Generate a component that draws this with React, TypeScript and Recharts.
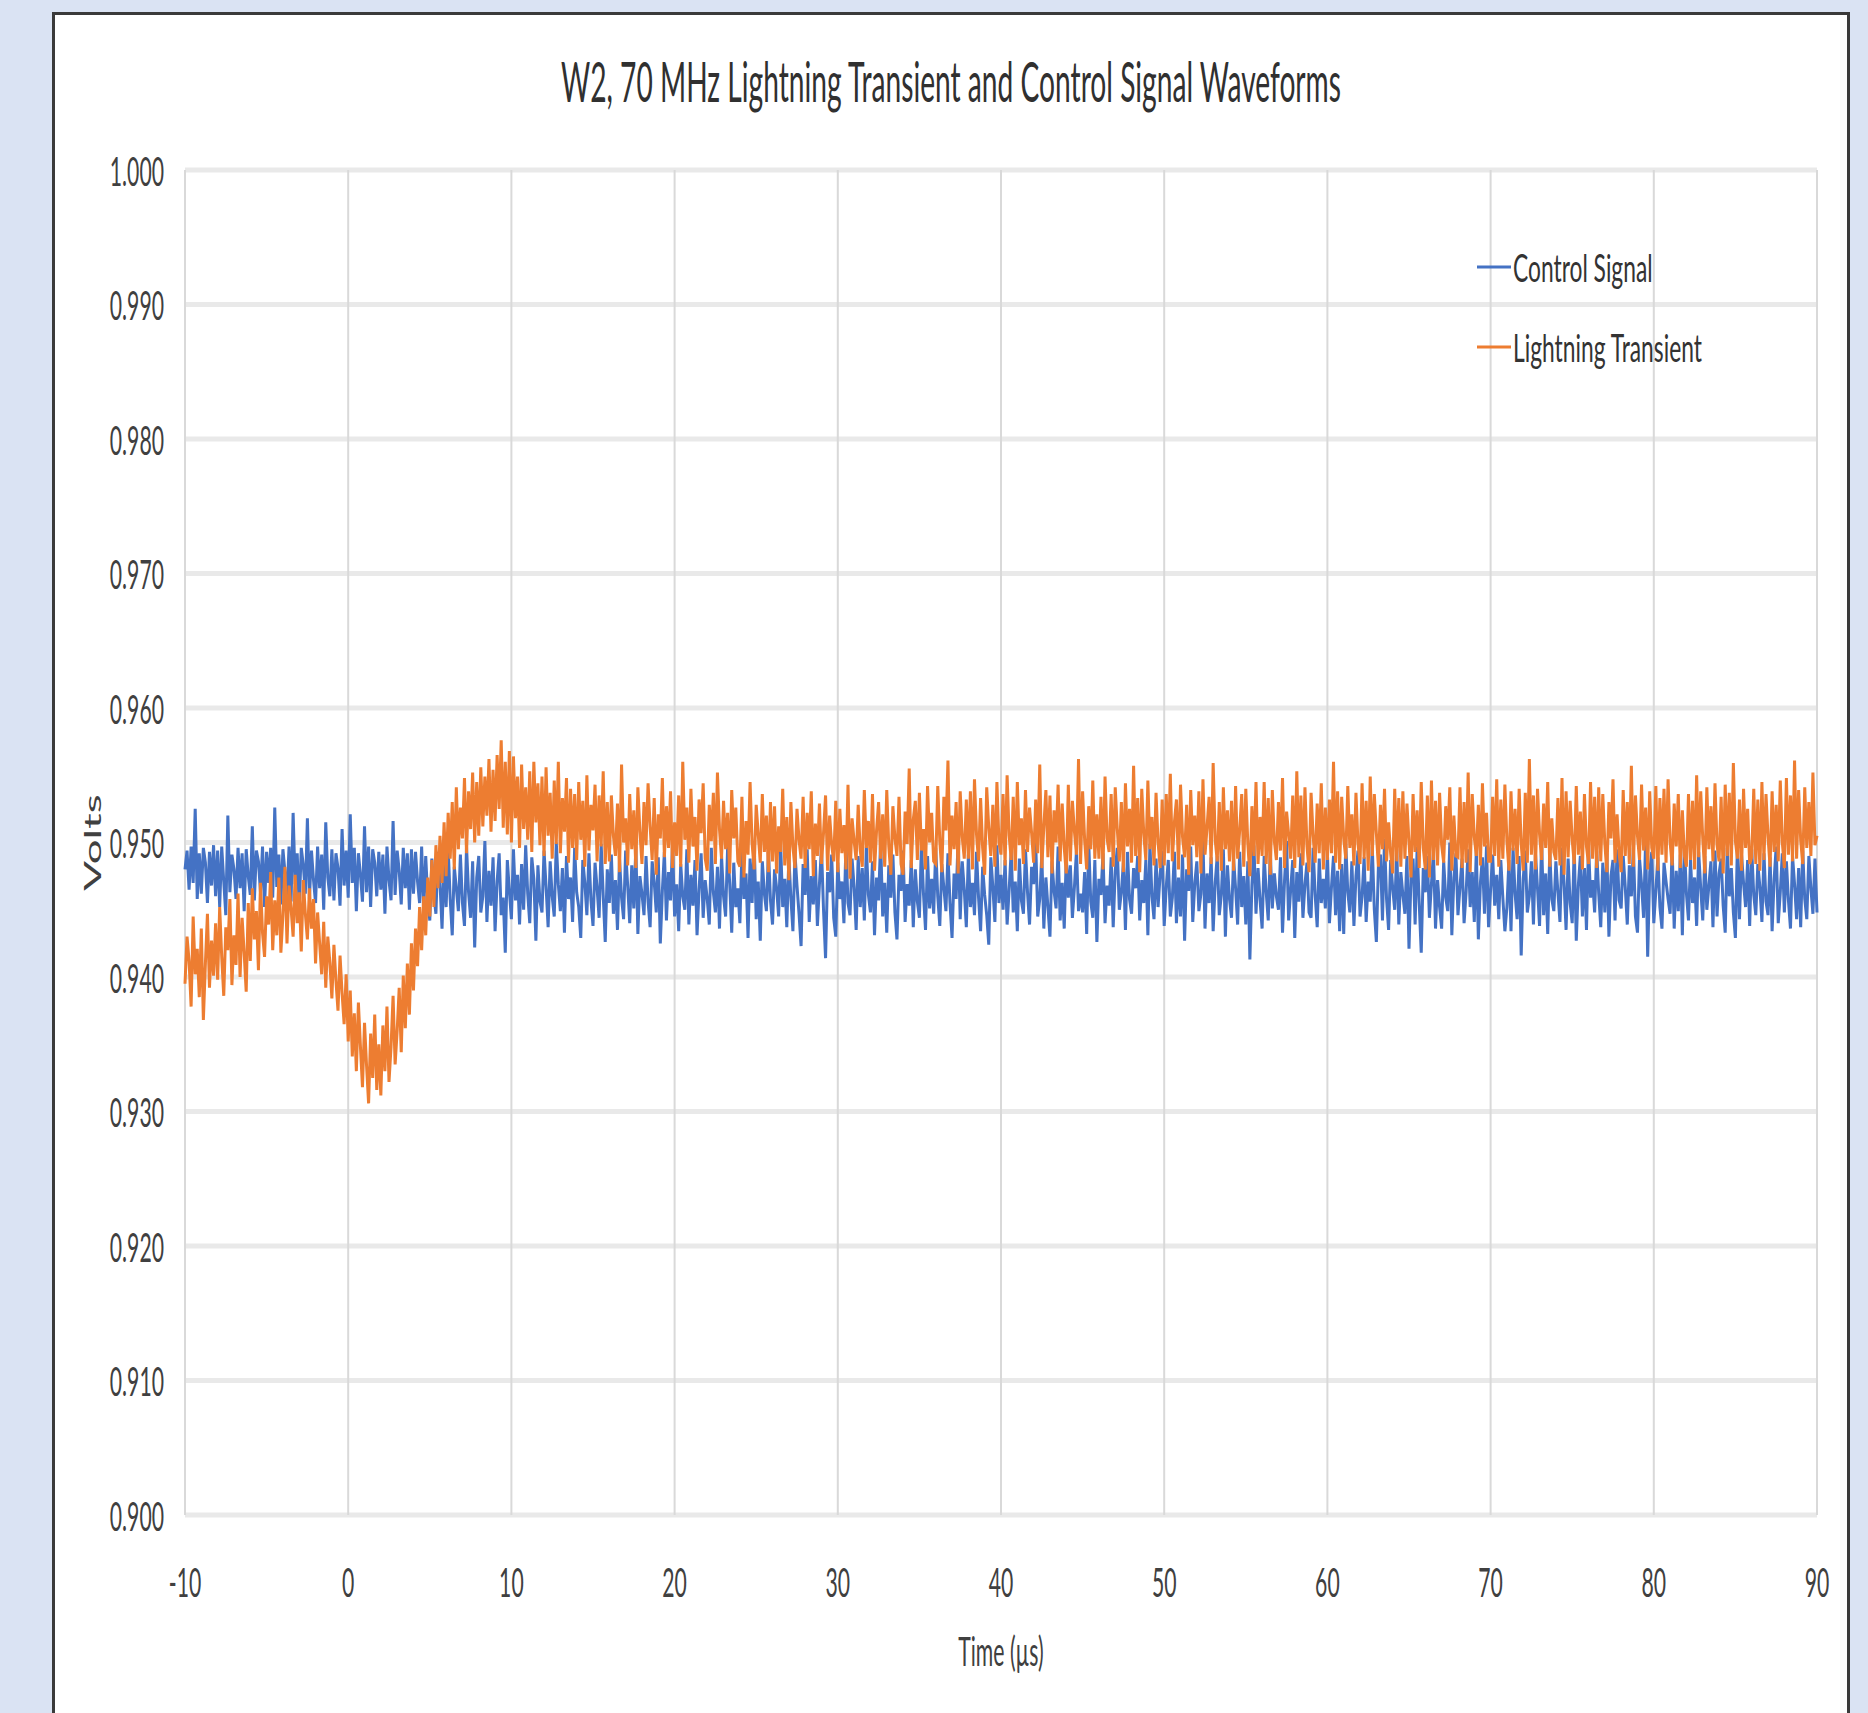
import React from 'react';
import {
  LineChart,
  Line,
  XAxis,
  YAxis,
  CartesianGrid,
  Legend,
  Label
} from 'recharts';

// sampling grid of the scope capture (µs)
const TIME_START = -10;
const TIME_STEP = 0.125;

const xTicks = [-10, 0, 10, 20, 30, 40, 50, 60, 70, 80, 90];
const yTicks = [0.9, 0.91, 0.92, 0.93, 0.94, 0.95, 0.96, 0.97, 0.98, 0.99, 1.0];

// Control Signal (V), one row = 2 µs
const controlSignal = [
  0.9480, 0.9494, 0.9465, 0.9497, 0.9470, 0.9525, 0.9458, 0.9492, 0.9462, 0.9496, 0.9485, 0.9455, 0.9493, 0.9468, 0.9498, 0.9460,
  0.9494, 0.9452, 0.9497, 0.9471, 0.9446, 0.9520, 0.9463, 0.9491, 0.9480, 0.9458, 0.9496, 0.9466, 0.9492, 0.9449, 0.9495, 0.9475,
  0.9461, 0.9512, 0.9457, 0.9494, 0.9486, 0.9463, 0.9497, 0.9452, 0.9493, 0.9470, 0.9496, 0.9459, 0.9526, 0.9467, 0.9491, 0.9454,
  0.9495, 0.9478, 0.9460, 0.9497, 0.9456, 0.9522, 0.9469, 0.9492, 0.9451, 0.9496, 0.9483, 0.9462, 0.9518, 0.9458, 0.9494, 0.9472,
  0.9455, 0.9497, 0.9466, 0.9491, 0.9450, 0.9515, 0.9474, 0.9460, 0.9495, 0.9457, 0.9492, 0.9481, 0.9453, 0.9510, 0.9468, 0.9494,
  0.9459, 0.9521, 0.9470, 0.9496, 0.9449, 0.9492, 0.9476, 0.9456, 0.9512, 0.9463, 0.9497, 0.9452, 0.9495, 0.9485, 0.9460, 0.9493,
  0.9465, 0.9491, 0.9447, 0.9497, 0.9472, 0.9457, 0.9516, 0.9461, 0.9494, 0.9479, 0.9454, 0.9496, 0.9466, 0.9492, 0.9450, 0.9495,
  0.9462, 0.9493, 0.9471, 0.9455, 0.9497, 0.9448, 0.9490, 0.9458,
  0.9442, 0.9488, 0.9461, 0.9447, 0.9493, 0.9470, 0.9436, 0.9485, 0.9452, 0.9496, 0.9458, 0.9431, 0.9482, 0.9466, 0.9449, 0.9491,
  0.9455, 0.9438, 0.9497, 0.9463, 0.9444, 0.9486, 0.9422, 0.9474, 0.9490, 0.9448, 0.9460, 0.9501, 0.9441, 0.9479, 0.9453, 0.9489,
  0.9434, 0.9471, 0.9492, 0.9446, 0.9459, 0.9418, 0.9487, 0.9464, 0.9443, 0.9495, 0.9457, 0.9476, 0.9439, 0.9484, 0.9450, 0.9498,
  0.9462, 0.9440, 0.9489, 0.9473, 0.9427, 0.9483, 0.9456, 0.9448, 0.9494, 0.9467, 0.9437, 0.9486, 0.9460, 0.9445, 0.9500, 0.9469,
  0.9449, 0.9481, 0.9433, 0.9490, 0.9458, 0.9474, 0.9441, 0.9496, 0.9463, 0.9452, 0.9429, 0.9487, 0.9470, 0.9446, 0.9492, 0.9457,
  0.9438, 0.9485, 0.9466, 0.9444, 0.9499, 0.9461, 0.9426, 0.9480, 0.9455, 0.9491, 0.9447, 0.9472, 0.9435, 0.9488, 0.9459, 0.9443,
  0.9494, 0.9468, 0.9440, 0.9483, 0.9451, 0.9497, 0.9432, 0.9475, 0.9462, 0.9446, 0.9490, 0.9456, 0.9437, 0.9486, 0.9471, 0.9448,
  0.9489, 0.9425, 0.9464, 0.9493, 0.9442, 0.9478, 0.9457, 0.9500, 0.9445, 0.9469, 0.9434, 0.9484, 0.9460, 0.9450, 0.9495, 0.9439,
  0.9476, 0.9453, 0.9487, 0.9431, 0.9465, 0.9492, 0.9444, 0.9472, 0.9458, 0.9439, 0.9496, 0.9463, 0.9448, 0.9482, 0.9436, 0.9490,
  0.9460, 0.9445, 0.9497, 0.9470, 0.9433, 0.9485, 0.9452, 0.9466, 0.9440, 0.9493, 0.9458, 0.9477, 0.9429, 0.9488, 0.9455, 0.9501,
  0.9443, 0.9471, 0.9427, 0.9486, 0.9462, 0.9449, 0.9494, 0.9457, 0.9439, 0.9480, 0.9466, 0.9445, 0.9498, 0.9452, 0.9473, 0.9437,
  0.9489, 0.9459, 0.9434, 0.9492, 0.9468, 0.9447, 0.9423, 0.9484, 0.9461, 0.9495, 0.9441, 0.9475, 0.9454, 0.9487, 0.9438, 0.9469,
  0.9496, 0.9450, 0.9414, 0.9478, 0.9463, 0.9491, 0.9444, 0.9430, 0.9485, 0.9458, 0.9471, 0.9440, 0.9499, 0.9455, 0.9446, 0.9488,
  0.9467, 0.9435, 0.9490, 0.9452, 0.9481, 0.9442, 0.9497, 0.9461, 0.9448, 0.9486, 0.9431, 0.9474, 0.9457, 0.9502, 0.9445, 0.9470,
  0.9433, 0.9483, 0.9459, 0.9491, 0.9448, 0.9428, 0.9476, 0.9464, 0.9494, 0.9441, 0.9469, 0.9453, 0.9487, 0.9437, 0.9480, 0.9456,
  0.9444, 0.9499, 0.9462, 0.9435, 0.9490, 0.9451, 0.9473, 0.9447, 0.9496, 0.9460, 0.9438, 0.9484, 0.9466, 0.9449, 0.9492, 0.9455,
  0.9429, 0.9477, 0.9458, 0.9504, 0.9443, 0.9486, 0.9465, 0.9437, 0.9491, 0.9452, 0.9470, 0.9446, 0.9493, 0.9459, 0.9434, 0.9482,
  0.9461, 0.9446, 0.9424, 0.9489, 0.9467, 0.9441, 0.9498, 0.9455, 0.9476, 0.9450, 0.9487, 0.9439, 0.9465, 0.9494, 0.9448, 0.9471,
  0.9434, 0.9488, 0.9457, 0.9447, 0.9495, 0.9463, 0.9439, 0.9482, 0.9469, 0.9501, 0.9445, 0.9458, 0.9491, 0.9436, 0.9474, 0.9452,
  0.9430, 0.9486, 0.9464, 0.9451, 0.9497, 0.9442, 0.9470, 0.9436, 0.9490, 0.9459, 0.9483, 0.9444, 0.9467, 0.9494, 0.9449, 0.9462,
  0.9448, 0.9478, 0.9432, 0.9500, 0.9456, 0.9444, 0.9487, 0.9426, 0.9473, 0.9461, 0.9492, 0.9440, 0.9468, 0.9453, 0.9489, 0.9437,
  0.9479, 0.9496, 0.9450, 0.9463, 0.9485, 0.9435, 0.9493, 0.9458, 0.9447, 0.9481, 0.9466, 0.9490, 0.9442, 0.9472, 0.9455, 0.9487,
  0.9431, 0.9499, 0.9460, 0.9443, 0.9488, 0.9452, 0.9476, 0.9494, 0.9438, 0.9467, 0.9487, 0.9445, 0.9459, 0.9493, 0.9440, 0.9474,
  0.9445, 0.9491, 0.9427, 0.9480, 0.9464, 0.9497, 0.9441, 0.9470, 0.9486, 0.9449, 0.9462, 0.9502, 0.9436, 0.9477, 0.9455, 0.9489,
  0.9434, 0.9470, 0.9490, 0.9446, 0.9461, 0.9495, 0.9430, 0.9483, 0.9458, 0.9444, 0.9488, 0.9466, 0.9439, 0.9493, 0.9452, 0.9475,
  0.9439, 0.9486, 0.9413, 0.9468, 0.9498, 0.9447, 0.9481, 0.9457, 0.9436, 0.9490, 0.9463, 0.9442, 0.9494, 0.9451, 0.9477, 0.9460,
  0.9450, 0.9489, 0.9433, 0.9472, 0.9501, 0.9442, 0.9465, 0.9487, 0.9429, 0.9478, 0.9456, 0.9492, 0.9444, 0.9469, 0.9485, 0.9448,
  0.9444, 0.9496, 0.9461, 0.9437, 0.9488, 0.9455, 0.9473, 0.9451, 0.9493, 0.9440, 0.9467, 0.9490, 0.9446, 0.9479, 0.9434, 0.9484,
  0.9432, 0.9499, 0.9463, 0.9448, 0.9486, 0.9438, 0.9475, 0.9494, 0.9445, 0.9460, 0.9489, 0.9441, 0.9471, 0.9456, 0.9497, 0.9450,
  0.9426, 0.9482, 0.9491, 0.9442, 0.9503, 0.9458, 0.9435, 0.9487, 0.9466, 0.9450, 0.9495, 0.9439, 0.9478, 0.9461, 0.9447, 0.9490,
  0.9421, 0.9476, 0.9488, 0.9439, 0.9497, 0.9455, 0.9418, 0.9481, 0.9463, 0.9490, 0.9444, 0.9469, 0.9493, 0.9436, 0.9472, 0.9452,
  0.9436, 0.9486, 0.9459, 0.9449, 0.9500, 0.9431, 0.9474, 0.9492, 0.9446, 0.9467, 0.9488, 0.9440, 0.9463, 0.9495, 0.9452, 0.9478,
  0.9441, 0.9495, 0.9428, 0.9470, 0.9489, 0.9447, 0.9498, 0.9437, 0.9465, 0.9491, 0.9453, 0.9476, 0.9443, 0.9487, 0.9459, 0.9434,
  0.9452, 0.9487, 0.9434, 0.9496, 0.9462, 0.9443, 0.9490, 0.9416, 0.9473, 0.9494, 0.9448, 0.9460, 0.9486, 0.9439, 0.9492, 0.9466,
  0.9438, 0.9501, 0.9446, 0.9477, 0.9432, 0.9493, 0.9458, 0.9449, 0.9486, 0.9463, 0.9441, 0.9496, 0.9470, 0.9435, 0.9488, 0.9455,
  0.9440, 0.9497, 0.9427, 0.9468, 0.9490, 0.9445, 0.9481, 0.9435, 0.9499, 0.9459, 0.9472, 0.9448, 0.9494, 0.9462, 0.9437, 0.9485,
  0.9448, 0.9492, 0.9430, 0.9475, 0.9487, 0.9442, 0.9495, 0.9457, 0.9451, 0.9490, 0.9467, 0.9439, 0.9483, 0.9460, 0.9496, 0.9445,
  0.9433, 0.9488, 0.9469, 0.9444, 0.9502, 0.9415, 0.9478, 0.9493, 0.9440, 0.9464, 0.9489, 0.9452, 0.9436, 0.9485, 0.9471, 0.9458,
  0.9447, 0.9496, 0.9436, 0.9479, 0.9449, 0.9491, 0.9431, 0.9498, 0.9462, 0.9442, 0.9487, 0.9455, 0.9474, 0.9438, 0.9493, 0.9466,
  0.9442, 0.9490, 0.9450, 0.9468, 0.9486, 0.9437, 0.9494, 0.9445, 0.9477, 0.9488, 0.9453, 0.9433, 0.9496, 0.9460, 0.9481, 0.9448,
  0.9429, 0.9499, 0.9443, 0.9491, 0.9470, 0.9452, 0.9487, 0.9438, 0.9495, 0.9461, 0.9446, 0.9484, 0.9467, 0.9441, 0.9492, 0.9456,
  0.9446, 0.9489, 0.9434, 0.9473, 0.9497, 0.9440, 0.9463, 0.9492, 0.9448, 0.9486, 0.9457, 0.9436, 0.9490, 0.9469, 0.9443, 0.9481,
  0.9437, 0.9494, 0.9458, 0.9443, 0.9490, 0.9466, 0.9447, 0.9488, 0.9448
];

// Lightning Transient (V), one row = 2 µs
const lightningTransient = [
  0.9395, 0.9430, 0.9412, 0.9378, 0.9445, 0.9402, 0.9421, 0.9385, 0.9436, 0.9368, 0.9410, 0.9447, 0.9392, 0.9427, 0.9401, 0.9440,
  0.9398, 0.9452, 0.9415, 0.9386, 0.9437, 0.9420, 0.9458, 0.9394, 0.9431, 0.9409, 0.9462, 0.9400, 0.9444, 0.9418, 0.9389, 0.9455,
  0.9412, 0.9466, 0.9428, 0.9449, 0.9405, 0.9470, 0.9433, 0.9415, 0.9460, 0.9439, 0.9478, 0.9420, 0.9457, 0.9431, 0.9474, 0.9418,
  0.9446, 0.9482, 0.9425, 0.9468, 0.9451, 0.9430, 0.9476, 0.9440, 0.9463, 0.9419, 0.9472, 0.9447, 0.9428, 0.9466, 0.9436, 0.9458,
  0.9410, 0.9448, 0.9425, 0.9402, 0.9441, 0.9392, 0.9430, 0.9411, 0.9384, 0.9424, 0.9397, 0.9375, 0.9416, 0.9388, 0.9365, 0.9402,
  0.9352, 0.9390, 0.9341, 0.9373, 0.9330, 0.9381, 0.9348, 0.9318, 0.9366, 0.9334, 0.9306, 0.9358, 0.9325, 0.9372, 0.9316, 0.9350,
  0.9312, 0.9364, 0.9330, 0.9378, 0.9322, 0.9348, 0.9386, 0.9335, 0.9360, 0.9392, 0.9344, 0.9401, 0.9362, 0.9410, 0.9372, 0.9425,
  0.9390, 0.9436, 0.9408, 0.9452, 0.9420, 0.9460, 0.9431, 0.9474, 0.9445, 0.9487, 0.9452, 0.9498, 0.9466, 0.9505, 0.9470, 0.9515,
  0.9475, 0.9522, 0.9488, 0.9530, 0.9480, 0.9541, 0.9495, 0.9526, 0.9503, 0.9548, 0.9492, 0.9538, 0.9510, 0.9552, 0.9500, 0.9545,
  0.9505, 0.9556, 0.9512, 0.9549, 0.9520, 0.9562, 0.9508, 0.9554, 0.9516, 0.9565, 0.9525, 0.9576, 0.9511, 0.9560, 0.9506, 0.9568,
  0.9500, 0.9564, 0.9518, 0.9549, 0.9496, 0.9558, 0.9510, 0.9541, 0.9502, 0.9553, 0.9493, 0.9560, 0.9515, 0.9544, 0.9498, 0.9549,
  0.9490, 0.9556, 0.9505, 0.9537, 0.9488, 0.9546, 0.9499, 0.9560, 0.9492, 0.9533, 0.9508, 0.9548, 0.9485, 0.9540, 0.9496, 0.9536,
  0.9487, 0.9545, 0.9502, 0.9531, 0.9482, 0.9550, 0.9494, 0.9528, 0.9509, 0.9543, 0.9486, 0.9535, 0.9497, 0.9553, 0.9484, 0.9530,
  0.9486, 0.9535, 0.9505, 0.9490, 0.9529, 0.9478, 0.9558, 0.9500, 0.9518, 0.9483, 0.9536, 0.9495, 0.9524, 0.9481, 0.9541, 0.9508,
  0.9484, 0.9530, 0.9498, 0.9544, 0.9512, 0.9487, 0.9533, 0.9476, 0.9521, 0.9503, 0.9548, 0.9489, 0.9527, 0.9496, 0.9538, 0.9481,
  0.9515, 0.9490, 0.9535, 0.9482, 0.9560, 0.9502, 0.9526, 0.9485, 0.9540, 0.9497, 0.9519, 0.9479, 0.9532, 0.9507, 0.9544, 0.9488,
  0.9479, 0.9528, 0.9501, 0.9537, 0.9484, 0.9552, 0.9510, 0.9488, 0.9531, 0.9495, 0.9522, 0.9477, 0.9539, 0.9503, 0.9526, 0.9486,
  0.9482, 0.9534, 0.9474, 0.9516, 0.9491, 0.9545, 0.9499, 0.9480, 0.9528, 0.9506, 0.9485, 0.9536, 0.9493, 0.9520, 0.9478, 0.9530,
  0.9486, 0.9527, 0.9477, 0.9512, 0.9493, 0.9540, 0.9483, 0.9519, 0.9472, 0.9530, 0.9497, 0.9481, 0.9525, 0.9502, 0.9488, 0.9534,
  0.9481, 0.9522, 0.9495, 0.9538, 0.9475, 0.9514, 0.9490, 0.9529, 0.9484, 0.9507, 0.9535, 0.9479, 0.9520, 0.9498, 0.9486, 0.9531,
  0.9478, 0.9525, 0.9492, 0.9513, 0.9480, 0.9543, 0.9473, 0.9518, 0.9501, 0.9487, 0.9528, 0.9494, 0.9482, 0.9539, 0.9496, 0.9516,
  0.9485, 0.9536, 0.9479, 0.9509, 0.9530, 0.9488, 0.9521, 0.9482, 0.9539, 0.9497, 0.9476, 0.9527, 0.9503, 0.9490, 0.9534, 0.9484,
  0.9476, 0.9523, 0.9499, 0.9555, 0.9481, 0.9517, 0.9531, 0.9487, 0.9537, 0.9494, 0.9510, 0.9480, 0.9542, 0.9500, 0.9522, 0.9486,
  0.9484, 0.9542, 0.9501, 0.9478, 0.9534, 0.9509, 0.9561, 0.9483, 0.9520, 0.9495, 0.9530, 0.9477, 0.9538, 0.9504, 0.9488, 0.9532,
  0.9488, 0.9538, 0.9480, 0.9547, 0.9506, 0.9486, 0.9533, 0.9496, 0.9476, 0.9541, 0.9511, 0.9490, 0.9528, 0.9482, 0.9545, 0.9500,
  0.9491, 0.9536, 0.9483, 0.9550, 0.9505, 0.9487, 0.9534, 0.9479, 0.9545, 0.9498, 0.9518, 0.9484, 0.9539, 0.9493, 0.9526, 0.9507,
  0.9485, 0.9532, 0.9492, 0.9558, 0.9481, 0.9512, 0.9539, 0.9489, 0.9535, 0.9477, 0.9524, 0.9500, 0.9543, 0.9486, 0.9529, 0.9496,
  0.9477, 0.9543, 0.9486, 0.9531, 0.9508, 0.9491, 0.9562, 0.9484, 0.9538, 0.9502, 0.9480, 0.9527, 0.9495, 0.9546, 0.9488, 0.9521,
  0.9488, 0.9534, 0.9480, 0.9549, 0.9503, 0.9493, 0.9536, 0.9482, 0.9541, 0.9510, 0.9486, 0.9530, 0.9478, 0.9544, 0.9497, 0.9525,
  0.9485, 0.9557, 0.9490, 0.9533, 0.9478, 0.9540, 0.9506, 0.9487, 0.9546, 0.9495, 0.9519, 0.9483, 0.9537, 0.9500, 0.9481, 0.9532,
  0.9483, 0.9536, 0.9492, 0.9551, 0.9486, 0.9515, 0.9532, 0.9480, 0.9543, 0.9504, 0.9489, 0.9528, 0.9476, 0.9539, 0.9498, 0.9520,
  0.9489, 0.9538, 0.9477, 0.9547, 0.9491, 0.9511, 0.9534, 0.9484, 0.9559, 0.9502, 0.9486, 0.9530, 0.9479, 0.9541, 0.9495, 0.9524,
  0.9486, 0.9531, 0.9479, 0.9542, 0.9488, 0.9509, 0.9536, 0.9482, 0.9540, 0.9499, 0.9475, 0.9527, 0.9490, 0.9545, 0.9484, 0.9519,
  0.9490, 0.9545, 0.9484, 0.9533, 0.9476, 0.9539, 0.9501, 0.9487, 0.9530, 0.9494, 0.9548, 0.9481, 0.9523, 0.9506, 0.9488, 0.9535,
  0.9481, 0.9553, 0.9489, 0.9535, 0.9483, 0.9541, 0.9497, 0.9478, 0.9537, 0.9505, 0.9485, 0.9529, 0.9492, 0.9544, 0.9480, 0.9526,
  0.9487, 0.9532, 0.9492, 0.9560, 0.9485, 0.9538, 0.9480, 0.9534, 0.9503, 0.9488, 0.9542, 0.9496, 0.9521, 0.9483, 0.9537, 0.9499,
  0.9484, 0.9544, 0.9488, 0.9531, 0.9479, 0.9549, 0.9490, 0.9536, 0.9507, 0.9482, 0.9528, 0.9495, 0.9540, 0.9486, 0.9515, 0.9492,
  0.9477, 0.9540, 0.9486, 0.9533, 0.9482, 0.9538, 0.9488, 0.9529, 0.9500, 0.9474, 0.9536, 0.9493, 0.9524, 0.9481, 0.9545, 0.9496,
  0.9480, 0.9535, 0.9474, 0.9546, 0.9487, 0.9531, 0.9483, 0.9537, 0.9498, 0.9485, 0.9527, 0.9502, 0.9541, 0.9479, 0.9520, 0.9490,
  0.9489, 0.9541, 0.9481, 0.9530, 0.9485, 0.9552, 0.9478, 0.9536, 0.9504, 0.9490, 0.9528, 0.9483, 0.9544, 0.9497, 0.9522, 0.9486,
  0.9486, 0.9534, 0.9490, 0.9547, 0.9482, 0.9532, 0.9488, 0.9543, 0.9501, 0.9479, 0.9538, 0.9494, 0.9525, 0.9484, 0.9540, 0.9499,
  0.9479, 0.9537, 0.9485, 0.9562, 0.9491, 0.9535, 0.9480, 0.9540, 0.9506, 0.9487, 0.9529, 0.9496, 0.9545, 0.9482, 0.9518, 0.9493,
  0.9487, 0.9533, 0.9483, 0.9548, 0.9476, 0.9538, 0.9489, 0.9531, 0.9502, 0.9484, 0.9542, 0.9491, 0.9523, 0.9480, 0.9536, 0.9497,
  0.9484, 0.9545, 0.9488, 0.9534, 0.9481, 0.9541, 0.9486, 0.9536, 0.9499, 0.9478, 0.9530, 0.9503, 0.9547, 0.9485, 0.9521, 0.9492,
  0.9478, 0.9539, 0.9490, 0.9530, 0.9484, 0.9557, 0.9482, 0.9535, 0.9505, 0.9487, 0.9543, 0.9494, 0.9526, 0.9480, 0.9538, 0.9496,
  0.9488, 0.9542, 0.9479, 0.9533, 0.9491, 0.9540, 0.9485, 0.9547, 0.9500, 0.9483, 0.9529, 0.9497, 0.9536, 0.9481, 0.9524, 0.9490,
  0.9482, 0.9536, 0.9487, 0.9531, 0.9480, 0.9550, 0.9489, 0.9538, 0.9503, 0.9477, 0.9541, 0.9495, 0.9527, 0.9486, 0.9544, 0.9498,
  0.9486, 0.9534, 0.9477, 0.9543, 0.9490, 0.9537, 0.9483, 0.9559, 0.9501, 0.9488, 0.9532, 0.9479, 0.9540, 0.9496, 0.9525, 0.9484,
  0.9489, 0.9540, 0.9484, 0.9532, 0.9479, 0.9545, 0.9487, 0.9536, 0.9504, 0.9482, 0.9538, 0.9493, 0.9528, 0.9486, 0.9546, 0.9500,
  0.9481, 0.9548, 0.9491, 0.9535, 0.9486, 0.9561, 0.9488, 0.9539, 0.9502, 0.9484, 0.9541, 0.9496, 0.9530, 0.9490, 0.9552, 0.9498,
  0.9505
];

const BLUE = '#4472c4';
const ORANGE = '#ed7d31';
const FONT = 'Lato, "Open Sans", sans-serif';
const SQUEEZE = 0.53; // the source image is squashed horizontally

const data = controlSignal.map((v, i) => ({
  t: TIME_START + i * TIME_STEP,
  control: v,
  lightning: lightningTransient[i]
}));

const YTick = ({ x, y, payload }: any) => (
  <g transform={`translate(${x},${y}) scale(${SQUEEZE},1)`}>
    <text textAnchor="end" dominantBaseline="central" fontSize={40} fill="#404040" fontFamily={FONT}>
      {Number(payload.value).toFixed(3)}
    </text>
  </g>
);

const XTick = ({ x, y, payload }: any) => (
  <g transform={`translate(${x},${y}) scale(${SQUEEZE},1)`}>
    <text textAnchor="middle" dominantBaseline="central" fontSize={40} fill="#404040" fontFamily={FONT}>
      {payload.value}
    </text>
  </g>
);

const LegendBox = ({ payload }: any) => (
  <svg width={380} height={150}>
    {(payload || []).map((entry: any, i: number) => {
      const cy = 37 + i * 80;
      return (
        <g key={entry.value}>
          <line x1={7} x2={41} y1={cy} y2={cy} stroke={entry.color} strokeWidth={3} />
          <g transform={`translate(43,${cy}) scale(0.6,1)`}>
            <text dominantBaseline="central" fontSize={38} fill="#333" fontFamily={FONT}>
              {entry.value}
            </text>
          </g>
        </g>
      );
    })}
  </svg>
);

export default function App() {
  return (
    <div style={{ position: 'absolute', left: 0, top: 0, width: 1868, height: 1713, background: '#dae3f3', overflow: 'hidden' }}>
      <div
        style={{
          position: 'absolute',
          left: 52,
          top: 12,
          width: 1798,
          height: 1720,
          boxSizing: 'border-box',
          background: '#ffffff',
          border: '3px solid #3a3a3a',
          borderBottom: 'none'
        }}
      />
      <div style={{ position: 'absolute', left: 0, top: 0 }}>
        <LineChart width={1868} height={1713} data={data} margin={{ top: 170, right: 51, bottom: 88, left: 0 }}>
          <CartesianGrid vertical={false} stroke="#e9e9e9" strokeWidth={5} />
          <CartesianGrid horizontal={false} stroke="#d9d9d9" strokeWidth={2} />
          <XAxis
            dataKey="t"
            type="number"
            domain={[-10, 90]}
            ticks={xTicks}
            interval={0}
            height={110}
            tickSize={0}
            tickMargin={66}
            axisLine={false}
            tickLine={false}
            tick={(p: any) => <XTick {...p} />}
          >
            <Label
              content={({ viewBox }: any) => (
                <g transform={`translate(${viewBox.x + viewBox.width / 2},${viewBox.y + 135}) scale(${SQUEEZE},1)`}>
                  <text textAnchor="middle" dominantBaseline="central" fontSize={40} fill="#404040" fontFamily={FONT}>
                    Time (µs)
                  </text>
                </g>
              )}
            />
          </XAxis>
          <YAxis
            type="number"
            domain={[0.9, 1.0]}
            ticks={yTicks}
            interval={0}
            width={185}
            tickSize={0}
            tickMargin={21}
            axisLine={false}
            tickLine={false}
            tick={(p: any) => <YTick {...p} />}
          >
            <Label
              content={({ viewBox }: any) => (
                <g transform={`translate(92,${viewBox.y + viewBox.height / 2}) scale(${SQUEEZE},1) rotate(-90)`}>
                  <text textAnchor="middle" dominantBaseline="central" fontSize={44} fill="#404040" fontFamily={FONT}>
                    Volts
                  </text>
                </g>
              )}
            />
          </YAxis>
          <Legend
            layout="vertical"
            align="center"
            verticalAlign="middle"
            wrapperStyle={{ left: 1470, top: 230, width: 380, height: 150 }}
            content={(p: any) => <LegendBox payload={p.payload} />}
          />
          <Line
            type="linear"
            dataKey="control"
            name="Control Signal"
            stroke={BLUE}
            strokeWidth={3}
            dot={false}
            isAnimationActive={false}
          />
          <Line
            type="linear"
            dataKey="lightning"
            name="Lightning Transient"
            stroke={ORANGE}
            strokeWidth={3}
            dot={false}
            isAnimationActive={false}
          />
        </LineChart>
      </div>
      <svg width={1868} height={1713} style={{ position: 'absolute', left: 0, top: 0, pointerEvents: 'none' }}>
        <g transform="translate(951,102) scale(0.503,1)">
          <text textAnchor="middle" fontSize={56} fill="#303030" fontFamily={FONT}>
            W2, 70 MHz Lightning Transient and Control Signal Waveforms
          </text>
        </g>
      </svg>
    </div>
  );
}
